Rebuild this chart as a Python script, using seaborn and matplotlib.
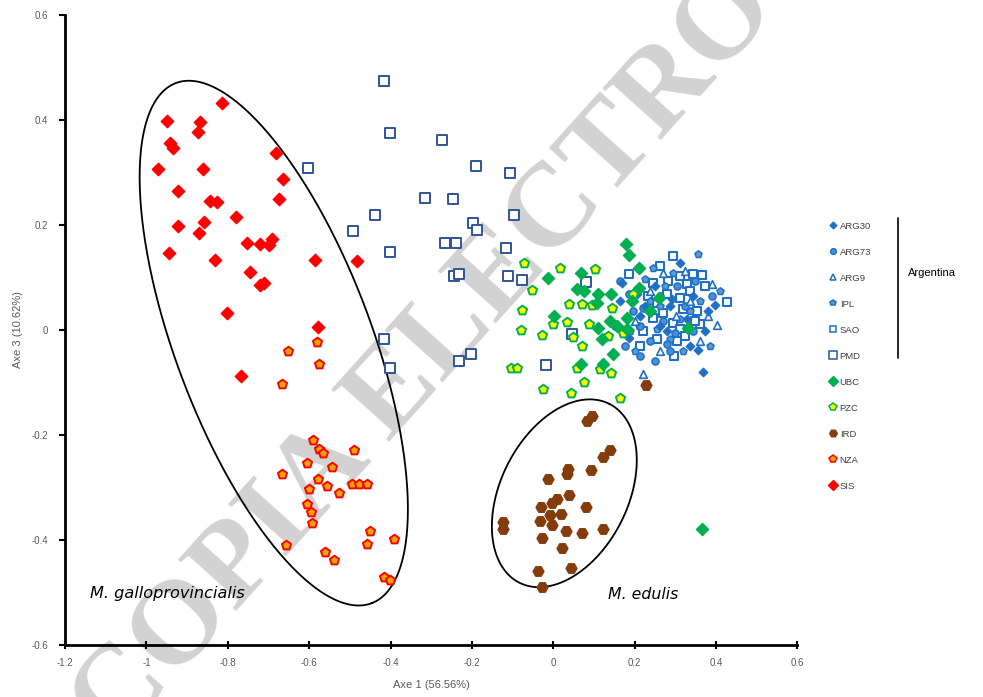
import numpy as np
import pandas as pd
import matplotlib
matplotlib.use("Agg")
import matplotlib.pyplot as plt
import seaborn as sns
from matplotlib.lines import Line2D

# ---------------- data ----------------
groups = ["ARG30", "ARG73", "ARG9", "IPL", "SAO", "PMD", "UBC", "PZC", "IRD", "NZA", "SIS"]

ARG30_x = [0.355, 0.367, 0.168, 0.205, 0.286, 0.380, 0.328, 0.279, 0.186, 0.343, 0.397, 0.225, 0.262, 0.311, 0.213, 0.335, 0.249, 0.291, 0.372, 0.163]
ARG30_y = [-0.038, -0.080, 0.090, 0.069, 0.046, 0.036, 0.021, -0.002, -0.015, 0.065, 0.048, 0.046, 0.008, 0.128, 0.027, -0.031, 0.084, 0.059, -0.002, 0.055]

ARG73_x = [0.195, 0.220, 0.269, 0.343, 0.279, 0.176, 0.286, 0.213, 0.163, 0.186, 0.303, 0.237, 0.323, 0.262, 0.389, 0.213, 0.348, 0.299, 0.151, 0.249]
ARG73_y = [0.036, 0.042, 0.017, -0.002, -0.027, -0.031, -0.040, 0.008, 0.094, 0.069, 0.084, -0.021, 0.046, 0.065, 0.065, -0.050, 0.094, -0.006, 0.008, -0.059]

ARG9_x = [0.269, 0.389, 0.402, 0.220, 0.335, 0.237, 0.301, 0.200, 0.360, 0.262, 0.323, 0.380]
ARG9_y = [0.109, 0.088, 0.010, -0.084, 0.055, 0.075, 0.027, 0.017, -0.021, -0.040, 0.113, 0.027]

IPL_x = [0.355, 0.245, 0.254, 0.210, 0.294, 0.311, 0.237, 0.335, 0.274, 0.188, 0.360, 0.286, 0.225, 0.409, 0.318, 0.200, 0.385, 0.262]
IPL_y = [0.145, 0.119, 0.002, 0.008, 0.109, 0.021, 0.055, 0.036, 0.084, -0.002, 0.055, -0.017, 0.098, 0.075, -0.040, -0.040, -0.031, 0.046]

SAO_x = [0.294, 0.186, 0.311, 0.343, 0.365, 0.245, 0.328, 0.279, 0.311, 0.426, 0.254, 0.318, 0.353, 0.245, 0.294,
         0.360, 0.220, 0.311, 0.254, 0.303, 0.296, 0.213, 0.335, 0.269, 0.372, 0.232, 0.323, 0.281, 0.262, 0.348]
SAO_y = [0.141, 0.107, 0.103, 0.107, 0.105, 0.090, 0.088, 0.069, 0.061, 0.054, 0.052, 0.040, 0.036, 0.023, 0.013,
         0.011, -0.002, 0.002, -0.017, -0.021, -0.050, -0.031, 0.075, 0.033, 0.084, 0.065, -0.011, 0.094, 0.122, 0.017]

PMD_x = [-0.416, -0.402, -0.274, -0.190, -0.107, -0.603, -0.316, -0.247, -0.097, -0.439, -0.493, -0.198, -0.188, -0.267,
         -0.240, -0.402, -0.117, -0.244, -0.232, -0.112, -0.077, 0.080, 0.045, -0.018, -0.416, -0.402, -0.232, -0.203]
PMD_y = [0.474, 0.375, 0.361, 0.312, 0.300, 0.308, 0.252, 0.249, 0.220, 0.220, 0.189, 0.203, 0.191, 0.166,
         0.166, 0.149, 0.157, 0.103, 0.107, 0.103, 0.096, 0.092, -0.008, -0.067, -0.017, -0.073, -0.059, -0.046]

UBC_x = [0.178, 0.186, 0.210, -0.014, 0.068, 0.058, 0.075, 0.109, 0.141, 0.107, 0.210, 0.193, 0.259, 0.237, 0.181,
         0.001, 0.139, 0.156, 0.109, 0.119, 0.181, 0.330, 0.146, 0.068, 0.122, 0.365]
UBC_y = [0.164, 0.143, 0.119, 0.099, 0.109, 0.078, 0.075, 0.069, 0.069, 0.052, 0.080, 0.055, 0.061, 0.036, 0.023,
         0.027, 0.017, 0.008, 0.004, -0.017, 0.002, 0.004, -0.046, -0.065, -0.065, -0.379]

PZC_x = [-0.072, 0.016, 0.102, -0.053, 0.038, 0.070, 0.095, 0.144, 0.195, -0.077, -0.001, 0.033, 0.087, -0.080,
         -0.028, 0.048, 0.134, 0.171, 0.070, -0.104, -0.090, 0.058, 0.114, 0.141, 0.075, -0.026, 0.043, 0.163]
PZC_y = [0.128, 0.119, 0.117, 0.076, 0.050, 0.050, 0.048, 0.042, 0.069, 0.038, 0.011, 0.015, 0.011, 0.000,
         -0.010, -0.013, -0.011, -0.006, -0.031, -0.073, -0.073, -0.073, -0.075, -0.082, -0.099, -0.113, -0.120, -0.130]

IRD_x = [0.227, 0.082, 0.095, 0.139, 0.122, 0.036, 0.033, 0.092, -0.014, 0.038, 0.009, -0.004, -0.031, 0.080,
         -0.009, 0.018, -0.124, -0.124, -0.033, -0.004, 0.031, 0.070, 0.122, -0.028, 0.021, -0.038, 0.043, -0.028]
IRD_y = [-0.105, -0.174, -0.164, -0.228, -0.241, -0.264, -0.275, -0.266, -0.283, -0.315, -0.321, -0.329, -0.337, -0.337,
         -0.352, -0.350, -0.365, -0.379, -0.363, -0.371, -0.382, -0.386, -0.379, -0.396, -0.415, -0.459, -0.453, -0.489]

NZA_x = [-0.581, -0.652, -0.576, -0.667, -0.591, -0.576, -0.566, -0.490, -0.606, -0.544, -0.667, -0.579, -0.601, -0.557,
         -0.527, -0.495, -0.478, -0.458, -0.606, -0.596, -0.593, -0.451, -0.458, -0.392, -0.657, -0.561, -0.539, -0.416, -0.402]
NZA_y = [-0.023, -0.040, -0.065, -0.103, -0.210, -0.226, -0.235, -0.228, -0.254, -0.260, -0.275, -0.283, -0.302, -0.298,
         -0.310, -0.293, -0.293, -0.293, -0.331, -0.346, -0.367, -0.382, -0.407, -0.398, -0.409, -0.423, -0.438, -0.470, -0.476]

SIS_x = [-0.815, -0.950, -0.869, -0.873, -0.942, -0.935, -0.972, -0.861, -0.682, -0.665, -0.674, -0.923, -0.844, -0.827,
         -0.780, -0.923, -0.859, -0.871, -0.945, -0.832, -0.753, -0.721, -0.699, -0.692, -0.746, -0.721, -0.711, -0.586,
         -0.483, -0.802, -0.579, -0.768]
SIS_y = [0.432, 0.398, 0.396, 0.377, 0.356, 0.346, 0.306, 0.306, 0.337, 0.287, 0.250, 0.264, 0.245, 0.243,
         0.216, 0.199, 0.206, 0.184, 0.147, 0.134, 0.166, 0.164, 0.161, 0.174, 0.111, 0.086, 0.090, 0.134,
         0.132, 0.033, 0.006, -0.088]

x_ticks = [-1.2, -1.0, -0.8, -0.6, -0.4, -0.2, 0.0, 0.2, 0.4, 0.6]
x_tick_labels = ["-1.2", "-1", "-0.8", "-0.6", "-0.4", "-0.2", "0", "0.2", "0.4", "0.6"]
y_ticks = [-0.6, -0.4, -0.2, 0.0, 0.2, 0.4, 0.6]
y_tick_labels = ["-0.6", "-0.4", "-0.2", "0", "0.2", "0.4", "0.6"]

xs = {"ARG30": ARG30_x, "ARG73": ARG73_x, "ARG9": ARG9_x, "IPL": IPL_x, "SAO": SAO_x, "PMD": PMD_x,
      "UBC": UBC_x, "PZC": PZC_x, "IRD": IRD_x, "NZA": NZA_x, "SIS": SIS_x}
ys = {"ARG30": ARG30_y, "ARG73": ARG73_y, "ARG9": ARG9_y, "IPL": IPL_y, "SAO": SAO_y, "PMD": PMD_y,
      "UBC": UBC_y, "PZC": PZC_y, "IRD": IRD_y, "NZA": NZA_y, "SIS": SIS_y}

df = pd.concat([pd.DataFrame({"x": xs[g], "y": ys[g], "group": g}) for g in groups], ignore_index=True)

# ---------------- styles ----------------
BLUE = "#1f6fc5"
styles = {
    "ARG30": dict(marker="D", s=20, facecolor=BLUE, edgecolor=BLUE, linewidth=0.8),
    "ARG73": dict(marker="o", s=26, facecolor="#4a8fd4", edgecolor=BLUE, linewidth=1.1),
    "ARG9":  dict(marker="^", s=30, facecolor="white", edgecolor=BLUE, linewidth=1.2),
    "IPL":   dict(marker="p", s=28, facecolor="#5b9bd5", edgecolor=BLUE, linewidth=1.1),
    "SAO":   dict(marker="s", s=26, facecolor="white", edgecolor=BLUE, linewidth=1.5),
    "PMD":   dict(marker="s", s=42, facecolor="white", edgecolor="#2f5597", linewidth=1.4),
    "UBC":   dict(marker="D", s=38, facecolor="#00b050", edgecolor="#00b050", linewidth=1.0),
    "PZC":   dict(marker="p", s=48, facecolor="#ffff00", edgecolor="#00b050", linewidth=1.4),
    "IRD":   dict(marker="H", s=62, facecolor="#843c0c", edgecolor="#843c0c", linewidth=1.0),
    "NZA":   dict(marker="p", s=48, facecolor="#e8a800", edgecolor="#ff0000", linewidth=1.4),
    "SIS":   dict(marker="D", s=40, facecolor="#ff0000", edgecolor="#ff0000", linewidth=1.0),
}
draw_order = ["PMD", "SAO", "IPL", "ARG73", "ARG9", "ARG30", "PZC", "UBC", "IRD", "NZA", "SIS"]

sns.set_theme(style="white")
plt.rcParams["font.family"] = ["Liberation Sans", "DejaVu Sans"]

fig = plt.figure(figsize=(9.83, 6.97), dpi=100)
fig.patch.set_facecolor("white")
ax = fig.add_axes([65 / 983, 1 - 645 / 697, (797.5 - 65) / 983, (645 - 15) / 697])
ax.set_facecolor("none")

# watermark (behind the plot)
fig.text(115 / 983, 1 - 746 / 697, "COPIA ELECTRO", fontsize=86, family="Liberation Serif",
         weight="bold", color="#d2d2d2", rotation=48, rotation_mode="anchor", ha="left",
         va="baseline", zorder=-1)

handles = {}
for g in draw_order:
    st = styles[g]
    sub = df[df["group"] == g]
    sns.scatterplot(data=sub, x="x", y="y", ax=ax, marker=st["marker"], s=st["s"],
                    color=st["facecolor"], edgecolor=st["edgecolor"], linewidth=st["linewidth"],
                    zorder=3, legend=False)
    handles[g] = Line2D([], [], linestyle="none", marker=st["marker"],
                        markersize=min(np.sqrt(st["s"]) * 0.8, 5.5),
                        markerfacecolor=st["facecolor"], markeredgecolor=st["edgecolor"],
                        markeredgewidth=min(st["linewidth"], 1.1))


# ellipses (annotation shapes)
def ellipse(cx, cy, ux, uy, vx, vy):
    t = np.linspace(0, 2 * np.pi, 400)
    return cx + ux * np.cos(t) + vx * np.sin(t), cy + uy * np.cos(t) + vy * np.sin(t)


ex, ey = ellipse(-0.687, -0.025, 0.2406, -0.4954, -0.2253, -0.0662)
ax.plot(ex, ey, color="black", lw=1.3, zorder=2)
ex, ey = ellipse(0.027, -0.311, 0.1109, 0.1702, 0.1393, -0.0550)
ax.plot(ex, ey, color="black", lw=1.3, zorder=2)

ax.text(-1.139, -0.501, "M. galloprovincialis", fontsize=11.6, style="italic", family="DejaVu Sans",
        color="black", ha="left", va="center", zorder=4)
ax.text(0.134, -0.503, "M. edulis", fontsize=11.3, style="italic", family="DejaVu Sans",
        color="black", ha="left", va="center", zorder=4)

ax.set_xlim(-1.2, 0.6)
ax.set_ylim(-0.6, 0.6)
ax.set_xticks(x_ticks)
ax.set_xticklabels(x_tick_labels)
ax.set_yticks(y_ticks)
ax.set_yticklabels(y_tick_labels)
ax.tick_params(axis="x", direction="inout", length=6, width=1.5, color="black", labelsize=7,
               labelcolor="#595959", pad=6, bottom=True)
ax.tick_params(axis="y", direction="out", length=4, width=1.5, color="black", labelsize=7,
               labelcolor="#595959", pad=8, left=True)
for side in ["top", "right"]:
    ax.spines[side].set_visible(False)
for side in ["left", "bottom"]:
    ax.spines[side].set_color("black")
    ax.spines[side].set_linewidth(2)
ax.set_xlabel("Axe 1 (56.56%)", fontsize=8, color="#595959", labelpad=9)
ax.set_ylabel("Axe 3 (10.62%)", fontsize=8, color="#595959", labelpad=6)
ax.grid(False)

# legend
fig.legend([handles[g] for g in groups], groups, loc="upper left", bbox_to_anchor=(825 / 983, 1 - 218 / 697),
           frameon=False, fontsize=6.8, labelspacing=1.8, handlelength=0.8, handletextpad=0.35,
           borderaxespad=0, labelcolor="#404040")
fig.add_artist(Line2D([898 / 983, 898 / 983], [1 - 218 / 697, 1 - 358 / 697], color="black", lw=1.2))
fig.text(908 / 983, 1 - 273 / 697, "Argentina", fontsize=8, color="black", ha="left", va="center")

fig.savefig("out.png", dpi=100)
